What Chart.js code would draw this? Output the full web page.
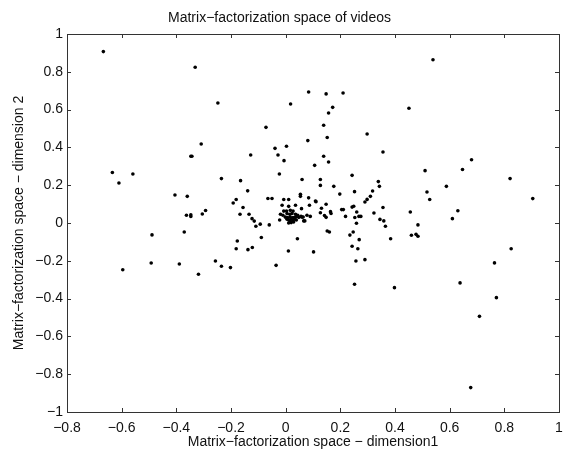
<!DOCTYPE html>
<html>
<head>
<meta charset="utf-8">
<script src="https://cdn.jsdelivr.net/npm/chart.js@4.4.0/dist/chart.umd.min.js"></script>
<style>
  html, body { margin: 0; padding: 0; background: #fff; }
  #wrap { width: 565px; height: 452px; }
</style>
</head>
<body>
<div id="wrap"><canvas id="scatter"></canvas></div>
<script>
// video coordinates in the factorized space
const dimension1 = [
  -0.667, -0.331, -0.248, -0.309, -0.347, -0.343, -0.634, -0.610, -0.559, -0.235,
  -0.405, -0.360, -0.363, -0.347, -0.347, -0.305, -0.293, -0.072, -0.039, -0.028,
  -0.006, 0.003, -0.023, 0.018, 0.084, 0.081, 0.060, -0.128, -0.165, -0.139,
  -0.192, -0.181, -0.156, -0.167, -0.134, -0.123, -0.115, -0.093, -0.065, -0.050,
  -0.060, -0.109, -0.022,
  0.539, 0.148, 0.210, 0.172, 0.157, 0.139, 0.152, 0.451, 0.298, 0.356,
  0.139, 0.157, 0.106, 0.243, 0.127, 0.127, 0.176, 0.198, 0.252, 0.339,
  0.343, 0.318, 0.310, 0.298, 0.290, 0.510, 0.517, 0.527, 0.588, 0.647,
  0.680, 0.821, 0.904, 0.630, 0.610, 0.456, 0.484, 0.356, 0.323, 0.345,
  0.359, 0.243, 0.249, 0.253, 0.260, 0.268, 0.275, 0.259, 0.219, 0.205,
  0.211, 0.164, 0.166, 0.148, 0.131, 0.127, 0.142, 0.148, 0.084, 0.087,
  0.078, 0.090, 0.064, 0.070, 0.111, 0.152, 0.160, 0.102, 0.235, 0.247,
  0.269, 0.243, 0.264, 0.257, 0.290, 0.252, 0.398, 0.365, 0.384, 0.460,
  0.477, 0.484, 0.825, 0.764, 0.638, 0.771, 0.709, 0.677,
  -0.489, -0.596, -0.492, -0.389, -0.371, -0.319, -0.257, -0.235, -0.202, -0.177,
  -0.181, -0.138, -0.122, -0.089, -0.035, 0.010, 0.043,
  0.054, 0.054, 0.109, -0.013, 0.011, 0.036, 0.058, -0.007, 0.003, 0.017,
  0.027, -0.019, -0.010, 0.005, 0.015, 0.023, 0.036, 0.044, -0.001, 0.007,
  0.017, 0.027, 0.036, 0.048, 0.060, 0.011, 0.017, 0.027, 0.039, 0.011,
  0.020, 0.029, 0.066, -0.007, 0.011, 0.056, 0.020, 0.005, 0.032
];
const dimension2 = [
  0.907, 0.824, 0.635, 0.418, 0.353, 0.353, 0.267, 0.212, 0.259, 0.235,
  0.148, 0.141, 0.041, 0.044, 0.035, 0.048, 0.066, 0.506, 0.395, 0.360,
  0.330, 0.406, 0.259, 0.630, 0.693, 0.436, 0.230, 0.360, 0.224, 0.170,
  0.106, 0.124, 0.082, 0.046, 0.046, 0.023, 0.010, -0.006, 0.130, 0.130,
  -0.010, -0.017, 0.016,
  0.864, 0.683, 0.688, 0.612, 0.582, 0.517, 0.452, 0.607, 0.471, 0.376,
  0.353, 0.323, 0.305, 0.252, 0.230, 0.199, 0.194, 0.153, 0.166, 0.219,
  0.194, 0.169, 0.141, 0.125, 0.111, 0.277, 0.164, 0.124, 0.194, 0.283,
  0.335, 0.235, 0.129, 0.065, 0.023, 0.058, -0.010, 0.082, 0.053, 0.019,
  0.011, 0.084, 0.089, 0.029, 0.058, 0.035, 0.035, -0.001, 0.035, 0.071,
  0.071, 0.060, 0.050, 0.099, 0.078, 0.054, 0.040, 0.030, 0.133, 0.094,
  0.041, 0.035, 0.032, 0.011, 0.113, -0.042, -0.048, -0.153, -0.064, -0.048,
  -0.088, -0.123, -0.136, -0.201, -0.194, -0.324, -0.342, -0.017, -0.083, -0.065,
  -0.060, -0.070, -0.136, -0.211, -0.317, -0.395, -0.494, -0.871,
  -0.063, -0.247, -0.212, -0.217, -0.048, -0.271, -0.201, -0.229, -0.236, -0.095,
  -0.136, -0.141, -0.130, -0.077, -0.224, -0.148, -0.083,
  0.152, 0.141, 0.116, 0.094, 0.088, 0.094, 0.076, 0.063, 0.063, 0.067,
  0.063, 0.046, 0.041, 0.050, 0.046, 0.050, 0.046, 0.041, 0.031, 0.029,
  0.031, 0.029, 0.031, 0.030, 0.031, 0.016, 0.009, 0.013, 0.016, 0.000,
  0.002, 0.005, 0.011, 0.124, 0.124, 0.035, 0.022, 0.020, 0.022
];
const xTicks = [-0.8, -0.6, -0.4, -0.2, 0, 0.2, 0.4, 0.6, 0.8, 1];
const yTicks = [-1, -0.8, -0.6, -0.4, -0.2, 0, 0.2, 0.4, 0.6, 0.8, 1];

const points = dimension1.map((x, i) => ({ x: x, y: dimension2[i] }));

const FONT = "'Liberation Sans', Arial, Helvetica, sans-serif";
const minus = v => {
  const r = Math.round(v * 10) / 10;
  return r < 0 ? '\u2212' + Math.abs(r) : String(r);
};

// box outline plus short inward ticks on all four sides
const boxTicks = {
  id: 'boxTicks',
  afterDatasetsDraw(chart) {
    const { ctx, chartArea: a, scales } = chart;
    const len = 4;
    ctx.save();
    ctx.strokeStyle = '#333';
    ctx.lineWidth = 1;
    ctx.beginPath();
    for (const t of xTicks) {
      const px = Math.round(scales.x.getPixelForValue(t)) + 0.5;
      ctx.moveTo(px, a.bottom); ctx.lineTo(px, a.bottom - len);
      ctx.moveTo(px, a.top); ctx.lineTo(px, a.top + len);
    }
    for (const t of yTicks) {
      const py = Math.round(scales.y.getPixelForValue(t)) + 0.5;
      ctx.moveTo(a.left, py); ctx.lineTo(a.left + len, py);
      ctx.moveTo(a.right, py); ctx.lineTo(a.right - len, py);
    }
    ctx.stroke();
    ctx.strokeRect(Math.round(a.left) + 0.5, Math.round(a.top) + 0.5,
      Math.round(a.right - a.left), Math.round(a.bottom - a.top));
    ctx.restore();
  }
};

new Chart(document.getElementById('scatter'), {
  type: 'scatter',
  data: {
    datasets: [{
      data: points,
      backgroundColor: '#000',
      borderColor: '#000',
      pointRadius: 1.8,
      pointHoverRadius: 1.8,
      borderWidth: 0
    }]
  },
  options: {
    responsive: true,
    maintainAspectRatio: false,
    animation: false,
    layout: { padding: { left: 0, right: 6, top: 0, bottom: 0 } },
    plugins: {
      legend: { display: false },
      tooltip: { enabled: false },
      title: {
        display: true,
        text: 'Matrix\u2212factorization space of videos',
        color: '#111',
        font: { family: FONT, size: 14, weight: 'normal', lineHeight: 1.2 },
        padding: { top: 9.5, bottom: 7.7 }
      }
    },
    scales: {
      x: {
        type: 'linear',
        min: -0.8,
        max: 1,
        afterBuildTicks: s => { s.ticks = xTicks.map(v => ({ value: v })); },
        afterFit: s => { s.height = 40; s.paddingLeft = 0; s.paddingRight = 0; },
        grid: { display: false, drawTicks: false },
        border: { display: false },
        ticks: {
          color: '#111',
          padding: 8,
          maxRotation: 0,
          font: { family: FONT, size: 14 },
          callback: v => minus(v)
        },
        title: {
          display: true,
          text: 'Matrix\u2212factorization space \u2212 dimension1',
          color: '#111',
          font: { family: FONT, size: 14 },
          padding: { top: 0, bottom: 1 }
        }
      },
      y: {
        type: 'linear',
        min: -1,
        max: 1,
        afterBuildTicks: s => { s.ticks = yTicks.map(v => ({ value: v })); },
        afterFit: s => { s.width = 67; s.paddingTop = 0; s.paddingBottom = 0; },
        grid: { display: false, drawTicks: false },
        border: { display: false },
        ticks: {
          color: '#111',
          padding: 4,
          font: { family: FONT, size: 14 },
          callback: v => minus(v)
        },
        title: {
          display: true,
          text: 'Matrix\u2212factorization space \u2212 dimension 2',
          color: '#111',
          font: { family: FONT, size: 14 },
          padding: { top: 10.5, bottom: 0 }
        }
      }
    }
  },
  plugins: [boxTicks]
});
</script>
</body>
</html>
